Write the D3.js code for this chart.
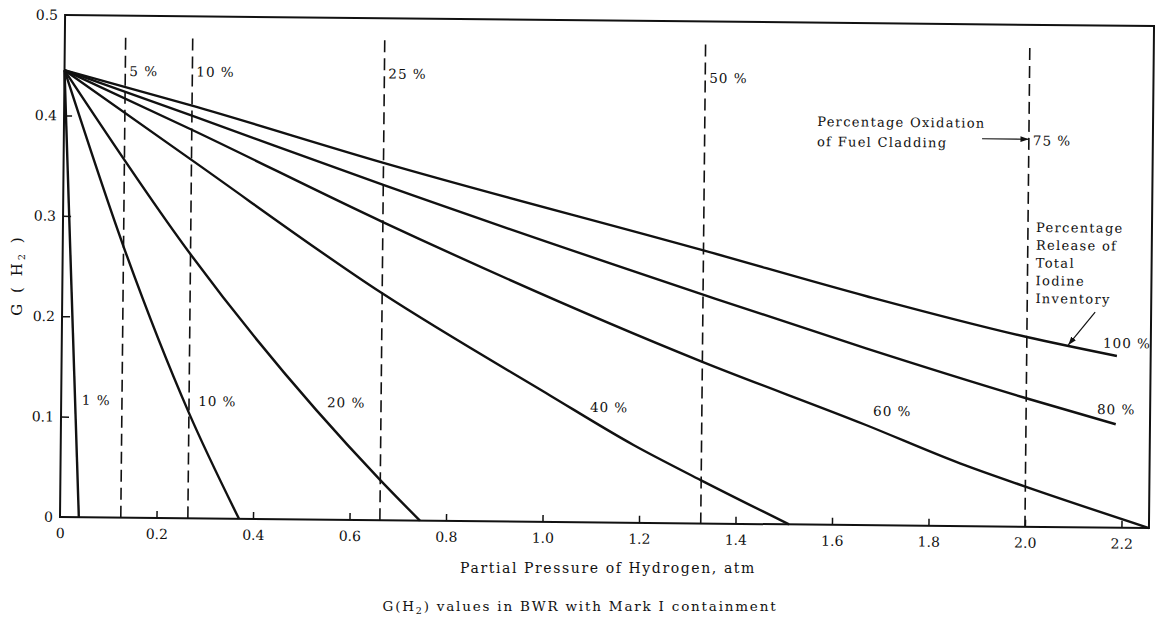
<!DOCTYPE html>
<html>
<head>
<meta charset="utf-8">
<script src="https://cdn.jsdelivr.net/npm/d3@7"></script>
<style>
  html, body { margin: 0; padding: 0; background: #fff; }
  svg { display: block; }
  text { font-family: "DejaVu Serif", "Liberation Serif", serif; fill: #111; }
</style>
</head>
<body>
<svg id="chart" width="1158" height="623"></svg>
<script>
// ---------- data ----------
const xTickValues = [0, 0.2, 0.4, 0.6, 0.8, 1.0, 1.2, 1.4, 1.6, 1.8, 2.0, 2.2];
const yTickValues = [0, 0.1, 0.2, 0.3, 0.4, 0.5];

// Percentage release of total iodine inventory curves: [pressure atm, G(H2)]
const releaseLabels = ["1 %", "10 %", "20 %", "40 %", "60 %", "80 %", "100 %"];
const release1   = [[0, 0.445], [0.039, 0]];
const release10  = [[0, 0.445], [0.126, 0.270], [0.265, 0.105], [0.371, 0]];
const release20  = [[0, 0.445], [0.265, 0.263], [0.663, 0.040], [0.746, 0]];
const release40  = [[0, 0.445], [0.265, 0.357], [0.663, 0.226], [1.013, 0.126], [1.187, 0.0775], [1.328, 0.043], [1.511, 0]];
const release60  = [[0, 0.445], [0.265, 0.387], [0.663, 0.297], [1.328, 0.161], [1.667, 0.100], [1.864, 0.0625], [2.0, 0.040], [2.257, 0]];
const release80  = [[0, 0.445], [0.265, 0.401], [0.663, 0.334], [1.328, 0.228], [1.667, 0.176], [2.0, 0.128], [2.186, 0.103]];
const release100 = [[0, 0.445], [0.265, 0.411], [0.663, 0.356], [1.328, 0.272], [1.667, 0.228], [2.0, 0.189], [2.187, 0.171]];
// label anchor (data coords) for each release curve
const releaseLabelPos = [[0.043, 0.112], [0.284, 0.112], [0.551, 0.112], [1.096, 0.110], [1.683, 0.109], [2.147, 0.113], [2.158, 0.179]];

// Percentage oxidation of fuel cladding (vertical dashed lines)
const oxidationLabels = ["5 %", "10 %", "25 %", "50 %", "75 %"];
const oxidationX      = [0.126, 0.265, 0.663, 1.328, 2.0];
const oxidationTop    = [0.478, 0.478, 0.478, 0.477, 0.477];
const oxidationLabelY = [0.440, 0.440, 0.440, 0.439, 0.380];

// ---------- layout ----------
const svg = d3.select("#chart");
const mLeft = 60, mRight = 1149, mTop = 15, mBottom = 517;
const x = d3.scaleLinear().domain([0, 2.257]).range([mLeft, mRight]);
const y = d3.scaleLinear().domain([0, 0.5]).range([mBottom, mTop]);
const fmt = d => d === 0 ? "0" : d3.format(".1f")(d);

// arrow marker
svg.append("defs").append("marker")
  .attr("id", "arrow").attr("viewBox", "0 0 10 10")
  .attr("refX", 10).attr("refY", 5)
  .attr("markerWidth", 7).attr("markerHeight", 7)
  .attr("orient", "auto-start-reverse")
  .append("path").attr("d", "M0,1.5 L10,5 L0,8.5 Z").attr("fill", "#111");

// plot group, slightly tilted like the scanned original
const g = svg.append("g").attr("transform", `rotate(0.58, ${mLeft}, ${mBottom})`);

// frame
g.append("rect")
  .attr("x", mLeft).attr("y", mTop)
  .attr("width", mRight - mLeft).attr("height", mBottom - mTop)
  .attr("fill", "none").attr("stroke", "#111").attr("stroke-width", 2);

// axes
const xAxis = g.append("g").attr("transform", `translate(0,${mBottom})`)
  .call(d3.axisBottom(x).tickValues(xTickValues).tickFormat(fmt)
    .tickSizeInner(-7).tickSizeOuter(0).tickPadding(11));
xAxis.select(".domain").remove();
xAxis.selectAll(".tick line").attr("stroke", "#111").attr("stroke-width", 1.5)
  .filter(d => d === 0).remove();
xAxis.selectAll(".tick text").attr("font-size", 14)
  .attr("font-family", "DejaVu Serif").attr("fill", "#111");

const yAxis = g.append("g").attr("transform", `translate(${mLeft},0)`)
  .call(d3.axisLeft(y).tickValues(yTickValues).tickFormat(fmt)
    .tickSizeInner(-8).tickSizeOuter(0).tickPadding(7));
yAxis.select(".domain").remove();
yAxis.selectAll(".tick line").attr("stroke", "#111").attr("stroke-width", 1.5)
  .filter(d => d === 0 || d === 0.5).remove();
yAxis.selectAll(".tick text").attr("font-size", 14)
  .attr("font-family", "DejaVu Serif").attr("fill", "#111");

// oxidation dashed lines
g.append("g").selectAll("line").data(oxidationX).join("line")
  .attr("x1", d => x(d)).attr("x2", d => x(d))
  .attr("y1", (d, i) => y(oxidationTop[i])).attr("y2", y(0))
  .attr("stroke", "#111").attr("stroke-width", 1.6)
  .attr("stroke-dasharray", "12,6");

g.append("g").selectAll("text").data(oxidationLabels).join("text")
  .attr("x", (d, i) => x(oxidationX[i]) + 4)
  .attr("y", (d, i) => y(oxidationLabelY[i]))
  .attr("font-size", 13.5).attr("letter-spacing", 1)
  .text(d => d);

// release curves
const curves = [release1, release10, release20, release40, release60, release80, release100];
const line = d3.line().x(d => x(d[0])).y(d => y(d[1])).curve(d3.curveMonotoneX);
g.append("g").selectAll("path").data(curves).join("path")
  .attr("d", d => line(d))
  .attr("fill", "none").attr("stroke", "#111").attr("stroke-width", 2.4)
  .attr("stroke-linejoin", "round");

g.append("g").selectAll("text").data(releaseLabels).join("text")
  .attr("x", (d, i) => x(releaseLabelPos[i][0]))
  .attr("y", (d, i) => y(releaseLabelPos[i][1]))
  .attr("font-size", 13.5).attr("letter-spacing", 1)
  .text(d => d);

// annotation: percentage oxidation
const ann1 = g.append("text").attr("font-size", 13).attr("letter-spacing", 1.3);
ann1.append("tspan").attr("x", x(1.561)).attr("y", y(0.397)).text("Percentage Oxidation");
ann1.append("tspan").attr("x", x(1.561)).attr("y", y(0.377)).text("of Fuel Cladding");
g.append("line")
  .attr("x1", x(1.903)).attr("x2", x(2.0))
  .attr("y1", y(0.386)).attr("y2", y(0.386))
  .attr("stroke", "#111").attr("stroke-width", 1.2)
  .attr("marker-end", "url(#arrow)");

// annotation: percentage release
const annLines = ["Percentage", "Release of", "Total", "Iodine", "Inventory"];
const ann2 = g.append("text").attr("font-size", 13).attr("letter-spacing", 1.3);
annLines.forEach((t, i) => {
  ann2.append("tspan").attr("x", x(2.017)).attr("y", y(0.2937 - i * 0.0177)).text(t);
});
g.append("line")
  .attr("x1", x(2.141)).attr("y1", y(0.2146))
  .attr("x2", x(2.086)).attr("y2", y(0.1815))
  .attr("stroke", "#111").attr("stroke-width", 1.2)
  .attr("marker-end", "url(#arrow)");

// axis titles
svg.append("text")
  .attr("x", 608).attr("y", 573).attr("text-anchor", "middle")
  .attr("font-size", 14).attr("letter-spacing", 1.6)
  .text("Partial Pressure of Hydrogen, atm");

const yl = svg.append("text")
  .attr("transform", "translate(22,275) rotate(-90)")
  .attr("text-anchor", "middle").attr("font-size", 15).attr("letter-spacing", 3);
yl.append("tspan").text("G ( H");
yl.append("tspan").attr("font-size", 10).attr("dy", 3).text("2");
yl.append("tspan").attr("dy", -3).text(" )");

// caption
const cap = svg.append("text")
  .attr("x", 580).attr("y", 611).attr("text-anchor", "middle")
  .attr("font-size", 13.5).attr("letter-spacing", 1.8);
cap.append("tspan").text("G(H");
cap.append("tspan").attr("font-size", 9.5).attr("dy", 3).text("2");
cap.append("tspan").attr("dy", -3).text(") values in BWR with Mark I containment");
</script>
</body>
</html>
